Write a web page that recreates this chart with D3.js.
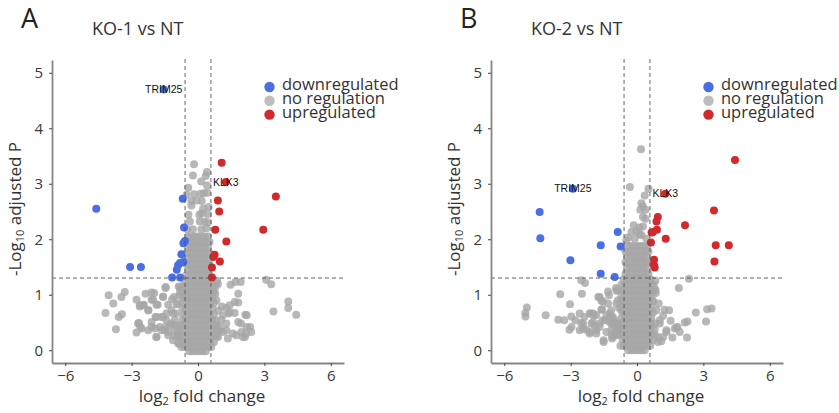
<!DOCTYPE html>
<html>
<head>
<meta charset="utf-8">
<script src="https://cdn.jsdelivr.net/npm/d3@7"></script>
<style>
  body { margin: 0; background: #fff; }
  svg { display: block; font-family: "Open Sans", sans-serif; }
</style>
</head>
<body>
<svg id="chart" width="839" height="413"></svg>
<script>
// tick labels and legend entries
var xTicks = [-6, -3, 0, 3, 6];
var yTicks = [0, 1, 2, 3, 4, 5];
var legendLabels = ["downregulated", "no regulation", "upregulated"];
var legendColors = ["#4a6ee3", "#bdbdbd", "#d1292c"];

// thresholds: log2(1.5) and -log10(0.05)
var fcCut = 0.585;
var pCut = 1.301;

// x positions of the packed genes in the centre of each plot (rows reused below)
var narrowA = [-0.45,-0.30,-0.15,0.00,0.15,0.30,0.45];
var narrowB = [-0.52,-0.37,-0.22,-0.07,0.08,0.23,0.38,0.52];
var midA = [-0.60,-0.45,-0.30,-0.15,0.00,0.15,0.30,0.45,0.60];
var wideA = [-0.70,-0.55,-0.40,-0.25,-0.10,0.05,0.20,0.35,0.50,0.65];
var wideB = [-0.65,-0.50,-0.35,-0.20,-0.05,0.10,0.25,0.40,0.55,0.72];
var baseA = [-1.05,-0.90,-0.75,-0.60,-0.45,-0.30,-0.15,0.00,0.15,0.30,0.45,0.60,0.75,0.85];
var baseB = [-1.15,-1.00,-0.85,-0.70,-0.55,-0.40,-0.25,-0.10,0.05,0.20,0.35,0.50,0.65,0.80];
var footA = [-0.75,-0.60,-0.45,-0.30,-0.15,0.00,0.15,0.30,0.45,0.60];
var footB = [-0.40,-0.25,-0.10,0.05,0.20,0.35];

// ---- KO-1 vs NT ----
var koA_down = [[-4.6,2.55],[-3.07,1.50],[-2.58,1.50],[-0.69,2.73],[-0.63,2.21],[-0.59,1.97],[-0.66,1.93],
  [-0.75,1.73],[-0.66,1.59],[-0.81,1.57],[-0.90,1.53],[-0.96,1.45],[-1.17,1.31],[-0.81,1.31],[-1.55,4.70]];
var koA_up = [[1.07,3.38],[1.26,3.03],[3.52,2.77],[0.90,2.70],[0.96,2.50],[0.78,2.17],[2.95,2.17],[1.28,1.96],
  [0.75,1.72],[0.69,1.68],[0.99,1.60],[0.63,1.49],[0.63,1.31]];
var koA_none = [
  [-0.18,3.35],[-0.23,3.15],[0.41,3.21],[0.35,3.14],[0.14,3.04],[-0.44,2.93],[0.41,2.97],[0.11,2.82],[0.26,2.83],
  [-0.18,2.81],[-0.52,2.80],[0.42,2.84],[-0.30,2.69],[0.17,2.69],[0.48,2.58],[0.23,2.55],[-0.30,2.61],[-0.43,2.44],
  [0.06,2.44],[0.17,2.47],[0.45,2.45],[-0.37,2.32],[0.08,2.32],[0.30,2.32],[0.45,2.30],[-0.48,2.18],[-0.23,2.18],
  [0.15,2.18],[0.38,2.20],[-0.07,2.70],
  [-4.04,0.99],[-3.31,1.05],[-3.46,0.96],[-3.83,0.84],[-4.18,0.67],[-3.58,0.60],[-3.44,0.65],[-3.71,0.38],
  [-2.78,0.91],[-2.63,0.79],[-2.45,0.82],[-2.37,1.02],[-2.10,1.04],[-1.98,1.03],[-2.03,0.91],[-2.24,0.72],
  [-1.92,0.60],[-1.58,0.96],[-1.47,1.12],[-1.82,0.82],[-2.67,0.49],[-2.61,0.42],[-2.78,0.32],[-2.10,0.42],
  [-1.88,0.24],[-1.58,0.60],[-1.43,0.54],[-1.17,0.92],[-1.08,0.96],[-0.97,0.83],[-0.87,1.15],[-0.81,1.06],
  [-1.65,0.36],[-1.47,0.42],[-1.35,0.33],[-1.13,0.66],[-1.20,0.48],[-0.90,0.12],[-0.87,0.24],
  [-2.63,0.81],[-2.48,0.81],[-2.25,0.72],[-2.10,0.91],[-1.88,0.82],[-1.58,0.97],[-1.35,0.82],[-2.10,0.51],
  [-1.88,0.60],[-1.65,0.60],[-1.43,0.66],[-1.20,0.72],[-2.71,0.48],[-2.55,0.39],[-2.25,0.36],[-1.95,0.39],
  [-1.73,0.42],[-1.50,0.36],[-1.28,0.45],[-1.05,0.54],[-1.88,0.24],[-1.35,0.27],[-1.13,0.18],[-0.90,0.27],
  [-0.83,0.12],[-0.98,0.66],[-0.90,0.84],[-0.83,0.99],[-0.83,1.14],[-1.46,1.14],
  [0.86,1.25],[0.80,1.15],[1.47,1.18],[1.69,1.23],[1.93,1.23],[1.82,1.02],[1.66,0.87],[1.82,0.86],[0.78,1.02],
  [0.83,0.90],[1.08,0.79],[1.28,0.76],[1.43,0.81],[0.92,0.71],[1.13,0.63],[1.39,0.66],[1.66,0.67],[2.14,0.64],
  [2.20,0.63],[1.82,0.51],[1.94,0.48],[2.20,0.42],[2.36,0.42],[2.41,0.33],[2.12,0.24],[1.58,0.30],[1.73,0.27],
  [1.35,0.21],[1.13,0.33],[3.08,1.27],[3.31,1.19],[3.41,0.70],[4.08,0.88],[4.08,0.76],[4.44,0.64],[0.80,0.54],
  [0.98,0.42],[0.90,0.24],[1.28,0.48],[0.90,1.20],[1.43,0.69],[2.03,0.24],[1.28,0.36],[1.96,0.33],[2.18,0.30],
  [1.05,0.55],[0.95,0.35]];
// dense non-significant core: [y, x positions]
var koA_core = [
  [2.05, narrowA], [1.95, narrowB], [1.85, narrowA], [1.75, narrowB], [1.65, narrowA], [1.55, narrowB],
  [1.45, narrowA], [1.35, narrowB], [1.25, midA], [1.15, wideA], [1.05, wideB], [0.95, wideA],
  [0.85, wideB], [0.75, wideA], [0.65, wideB], [0.55, wideA], [0.45, baseA], [0.35, baseA],
  [0.25, baseA], [0.15, wideB], [0.06, footA], [-0.02, footB]];
var koA_labels = [{gene: "TRIM25", x: -1.55, y: 4.70}, {gene: "KLK3", x: 1.26, y: 3.03}];

// ---- KO-2 vs NT ----
var koB_down = [[-4.40,2.49],[-4.37,2.02],[-3.01,1.62],[-1.64,1.89],[-0.87,2.13],[-0.74,1.87],[-1.64,1.38],
  [-1.01,1.32],[-2.90,2.91]];
var koB_up = [[1.28,2.82],[4.43,3.43],[3.48,2.52],[0.94,2.40],[0.88,2.32],[0.90,2.17],[0.72,2.13],[2.17,2.25],
  [1.30,2.01],[0.63,1.94],[3.56,1.89],[4.15,1.89],[3.50,1.60],[0.77,1.63],[0.77,1.53],[0.80,1.49],[0.66,2.12]];
var koB_none = [
  [0.18,3.62],[-0.32,2.94],[0.52,2.91],[0.35,2.79],[0.20,2.65],[0.27,2.59],[0.15,2.53],[0.39,2.53],[0.27,2.40],
  [0.39,2.37],[-0.15,2.25],[0.09,2.21],[0.27,2.23],[-0.25,2.13],[-0.03,2.15],[-0.41,2.03],[0.20,2.07],[0.42,2.01],
  [-0.48,1.98],[0.12,2.10],[-0.10,2.01],
  [-4.98,0.77],[-5.05,0.67],[-5.04,0.61],[-4.13,0.63],[-3.47,1.01],[-3.03,0.83],[-3.56,0.55],[-3.29,0.54],
  [-3.05,0.37],[-2.96,0.42],[-2.97,0.61],[-2.79,0.54],[-2.52,1.26],[-2.35,1.21],[-2.49,1.02],[-2.38,0.60],
  [-2.52,0.49],[-2.44,0.39],[-2.59,0.36],[-2.10,0.66],[-1.96,0.63],[-2.06,0.48],[-1.91,0.44],[-1.69,0.96],
  [-1.61,0.89],[-1.58,0.74],[-1.31,1.06],[-1.27,0.99],[-0.95,1.12],[-0.93,1.07],[-1.51,0.15],[-1.08,0.24],
  [-1.38,0.33],[-1.16,0.60],[-1.01,0.54],[-1.24,0.66],[-1.54,0.54],[-1.69,0.48],[-0.86,0.90],[-0.81,0.76],
  [-1.84,0.30],[-2.14,0.33],[-1.75,0.96],[-1.54,0.88],[-1.16,0.72],[-0.86,1.08],[-1.61,0.73],
  [-2.59,0.66],[-2.44,0.48],[-2.14,0.66],[-1.99,0.51],[-1.84,0.36],[-2.14,0.30],[-2.29,0.37],[-1.69,0.42],
  [-1.46,0.54],[-1.51,0.18],[-1.13,0.21],[-1.24,0.51],[-1.09,0.60],[-0.86,0.42],[-0.93,0.27],[-0.71,0.72],
  [-0.71,0.90],[-0.93,0.84],[-1.31,0.84],[-1.38,0.63],[-1.84,0.63],[-1.99,0.66],
  [2.35,1.29],[1.89,1.12],[2.66,0.68],[3.17,0.74],[3.37,0.75],[3.12,0.52],[2.26,0.23],[2.16,0.50],[2.28,0.52],
  [1.93,0.33],[1.78,0.41],[1.60,0.23],[1.52,0.53],[1.45,0.72],[1.25,0.73],[1.18,0.62],[0.98,0.84],[0.85,1.03],
  [0.83,1.09],[0.83,1.25],[0.76,1.17],[0.88,0.72],[1.03,0.54],[1.33,0.36],[1.18,0.24],[1.10,0.16],[0.95,0.15],
  [1.83,0.42],[1.71,0.39],[0.72,0.89],[0.80,1.08],[1.03,0.48],[1.33,0.33],[0.95,0.24]];
var koB_core = [
  [1.88, narrowA], [1.78, narrowB], [1.68, narrowA], [1.58, narrowB], [1.48, narrowA], [1.38, narrowB],
  [1.28, midA], [1.18, wideA], [1.08, wideB], [0.98, wideA], [0.88, wideB], [0.78, wideA],
  [0.68, wideB], [0.58, wideA], [0.48, baseB], [0.38, baseB], [0.28, baseB], [0.18, wideB],
  [0.08, footA], [0.00, footB]];
var koB_labels = [{gene: "TRIM25", x: -2.90, y: 2.91}, {gene: "KLK3", x: 1.28, y: 2.82}];

var svg = d3.select("#chart");

function drawPanel(opt) {
  var x = d3.scaleLinear().domain([-6.6, 6.6]).range([opt.left, opt.left + 292]);
  var y = d3.scaleLinear().domain([-0.23, 5.23]).range([363, 60]);
  var g = svg.append("g");

  // panel letter and title
  g.append("text").attr("x", opt.left - 31).attr("y", 28)
    .style("font-size", "27px").style("fill", "#222").text(opt.letter);
  g.append("text").attr("x", opt.left + 40).attr("y", 35)
    .style("font-size", "18px").style("fill", "#333").text(opt.title);

  // flatten the core rows into points
  var core = [];
  opt.core.forEach(function(r) { r[1].forEach(function(v) { core.push([v, r[0]]); }); });
  var grey = opt.none.concat(core);

  g.append("g").selectAll("circle").data(grey).join("circle")
    .attr("cx", function(d) { return x(d[0]); })
    .attr("cy", function(d) { return y(d[1]); })
    .attr("r", 4).style("fill", "#a6a6a6").style("fill-opacity", 0.8);
  g.append("g").selectAll("circle").data(opt.down).join("circle")
    .attr("cx", function(d) { return x(d[0]); })
    .attr("cy", function(d) { return y(d[1]); })
    .attr("r", 4).style("fill", legendColors[0]);
  g.append("g").selectAll("circle").data(opt.up).join("circle")
    .attr("cx", function(d) { return x(d[0]); })
    .attr("cy", function(d) { return y(d[1]); })
    .attr("r", 4).style("fill", legendColors[2]);

  // threshold lines
  [-fcCut, fcCut].forEach(function(v) {
    g.append("line").attr("x1", x(v)).attr("x2", x(v)).attr("y1", 59).attr("y2", 363)
      .style("stroke", "#555").style("stroke-width", 0.9).style("stroke-dasharray", "4,3");
  });
  g.append("line").attr("x1", opt.left).attr("x2", opt.left + 292).attr("y1", y(pCut)).attr("y2", y(pCut))
    .style("stroke", "#555").style("stroke-width", 0.9).style("stroke-dasharray", "4,3");

  // gene labels
  g.selectAll(".gene").data(opt.labels).join("text").attr("class", "gene")
    .attr("x", function(d) { return x(d.x); })
    .attr("y", function(d) { return y(d.y); })
    .attr("dy", "0.35em").attr("text-anchor", "middle")
    .style("font-family", "'Liberation Sans', Arial, sans-serif").style("font-size", "10.5px")
    .style("fill", "#111").text(function(d) { return d.gene; });

  // axes
  var xAxis = g.append("g").attr("transform", "translate(0,363)")
    .call(d3.axisBottom(x).tickValues(xTicks).tickFormat(d3.format("d"))
      .tickSize(3).tickSizeOuter(0).tickPadding(4.5));
  var yAxis = g.append("g").attr("transform", "translate(" + opt.left + ",0)")
    .call(d3.axisLeft(y).tickValues(yTicks).tickFormat(d3.format("d"))
      .tickSize(3).tickSizeOuter(0).tickPadding(6));
  [xAxis, yAxis].forEach(function(a) {
    a.select(".domain").style("stroke", "#858585").style("stroke-width", 1.8);
    a.selectAll(".tick line").style("stroke", "#444");
    a.selectAll(".tick text").style("font-family", "'Open Sans', sans-serif")
      .style("font-size", "15px").style("fill", "#3a3a3a");
  });

  // axis titles
  var xl = g.append("text").attr("x", opt.left + 150).attr("y", 402).attr("text-anchor", "middle")
    .style("font-size", "17px").style("fill", "#333");
  xl.append("tspan").text("log");
  xl.append("tspan").attr("baseline-shift", "-30%").style("font-size", "11px").text("2");
  xl.append("tspan").text(" fold change");

  var yl = g.append("text").attr("transform", "translate(" + (opt.left - 31) + ",209) rotate(-90)")
    .attr("text-anchor", "middle").style("font-size", "17px").style("fill", "#333");
  yl.append("tspan").text("-Log");
  yl.append("tspan").attr("baseline-shift", "-30%").style("font-size", "11px").text("10");
  yl.append("tspan").text(" adjusted P");

  // legend
  var lg = g.append("g").attr("transform", "translate(" + (opt.left + 217.5) + ",87)");
  legendLabels.forEach(function(lab, i) {
    lg.append("circle").attr("cx", 0).attr("cy", i * 13.8).attr("r", 5.2).style("fill", legendColors[i]);
    lg.append("text").attr("x", 12.5).attr("y", i * 13.8 + 3)
      .style("font-size", "16.5px").style("fill", "#333").text(lab);
  });
}

drawPanel({left: 52, letter: "A", title: "KO-1 vs NT", none: koA_none, core: koA_core,
  down: koA_down, up: koA_up, labels: koA_labels});
drawPanel({left: 491, letter: "B", title: "KO-2 vs NT", none: koB_none, core: koB_core,
  down: koB_down, up: koB_up, labels: koB_labels});
</script>
</body>
</html>
